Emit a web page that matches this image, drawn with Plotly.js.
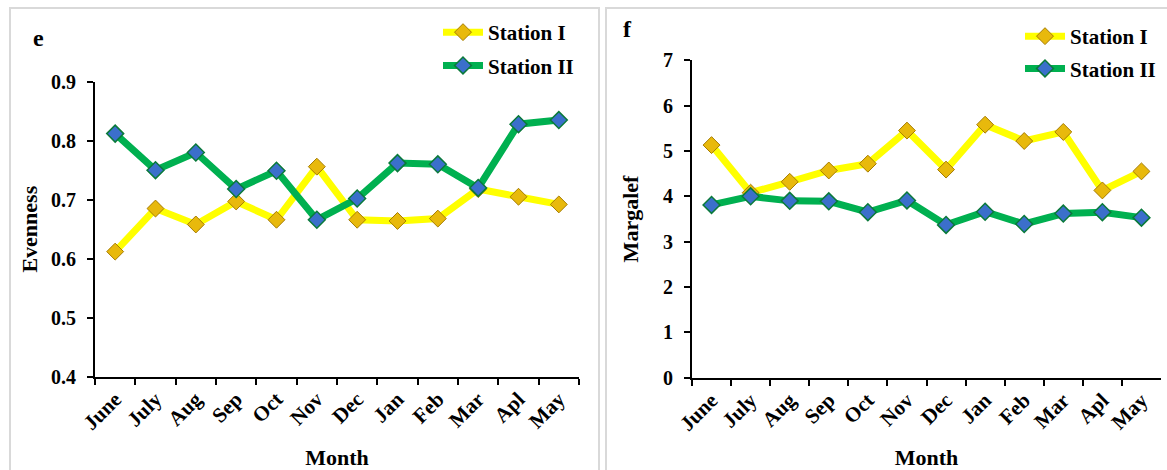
<!DOCTYPE html>
<html>
<head>
<meta charset="utf-8">
<script src="https://cdn.plot.ly/plotly-3.0.1.min.js"></script>
<style>html,body{margin:0;padding:0;background:#fff;} #chart{width:1167px;height:470px;}</style>
</head>
<body>
<div id="chart"></div>
<script>
const months = ["June","July","Aug","Sep","Oct","Nov","Dec","Jan","Feb","Mar","Apl","May"];
const evenStation1 = [0.612,0.685,0.658,0.697,0.666,0.756,0.666,0.664,0.668,0.718,0.705,0.692];
const evenStation2 = [0.812,0.750,0.780,0.718,0.749,0.666,0.702,0.762,0.760,0.720,0.828,0.835];
const margStation1 = [5.13,4.08,4.32,4.57,4.72,5.45,4.59,5.58,5.22,5.42,4.13,4.55];
const margStation2 = [3.81,4.00,3.90,3.89,3.65,3.91,3.37,3.66,3.39,3.62,3.65,3.53];
const seriesNames = ["Station I","Station II"];

const W = 1167, H = 470;
const px = v => v / W;
const py = v => 1 - v / H;

const FONT = "Liberation Serif, Times New Roman, serif";
const yellowLine = "#FFFF00", greenLine = "#00B050";
const yellowMarker = {symbol:"diamond", size:13, color:"#E8B90C", line:{color:"#A67C00", width:1}};
const greenMarker = {symbol:"diamond", size:13, color:"#3B6FCB", line:{color:"#0A7A3A", width:1.5}};

function tr(x, y, name, lineColor, marker, xa, ya, leg, grp) {
  return {type:"scatter", mode:"lines+markers", x:x, y:y, name:name,
    line:{color:lineColor, width:7}, marker:marker, xaxis:xa, yaxis:ya,
    legend:leg, legendgroup:grp, showlegend:true};
}

const data = [
  tr(months, evenStation1, seriesNames[0], yellowLine, yellowMarker, "x", "y", "legend", "a1"),
  tr(months, evenStation2, seriesNames[1], greenLine, greenMarker, "x", "y", "legend", "a2"),
  tr(months, margStation1, seriesNames[0], yellowLine, yellowMarker, "x2", "y2", "legend2", "b1"),
  tr(months, margStation2, seriesNames[1], greenLine, greenMarker, "x2", "y2", "legend2", "b2")
];

const yTickFont = {family:FONT, size:20, color:"#000", weight:"bold"};
const xTickFont = {family:FONT, size:21, color:"#000", weight:"bold"};
const titleFont = {family:FONT, size:22, color:"#000", weight:"bold"};
const legendFont = {family:FONT, size:21, color:"#000", weight:"bold"};

function xaxis(domain, anchor) {
  return {domain:domain, anchor:anchor, type:"category", range:[-0.5,11.5],
    tickson:"boundaries", ticks:"outside", ticklen:6, tickwidth:2, tickcolor:"#000",
    showline:true, linecolor:"#000", linewidth:2, showgrid:false, zeroline:false,
    tickangle:-45, tickfont:xTickFont, fixedrange:true,
    title:{text:"Month", font:titleFont, standoff:17}};
}
function yaxis(domain, anchor, range, dtick, fmt, title, standoff) {
  return {domain:domain, anchor:anchor, range:range, dtick:dtick, tick0:range[0], tickformat:fmt,
    ticks:"outside", ticklen:6, tickwidth:2, tickcolor:"#000", ticklabelstandoff:7,
    showline:true, linecolor:"#000", linewidth:2, showgrid:false, zeroline:false,
    tickfont:yTickFont, fixedrange:true,
    title:{text:title, font:titleFont, standoff:standoff}};
}

const layout = {
  width:W, height:H, margin:{l:0,r:0,t:0,b:0},
  paper_bgcolor:"#fff", plot_bgcolor:"rgba(0,0,0,0)",
  showlegend:true,
  xaxis: xaxis([px(95), px(579)], "y"),
  yaxis: yaxis([py(376.7), py(81.7)], "x", [0.4,0.9], 0.1, ".1f", "Evenness", 7),
  xaxis2: xaxis([px(692), px(1161)], "y2"),
  yaxis2: yaxis([py(377.7), py(60.3)], "x2", [0,7], 1, "d", "Margalef", 18),
  legend: {x:px(438), y:py(12), xanchor:"left", yanchor:"top", bgcolor:"rgba(0,0,0,0)",
    font:legendFont, tracegroupgap:3, itemwidth:40},
  legend2: {x:px(1020), y:py(16), xanchor:"left", yanchor:"top", bgcolor:"rgba(0,0,0,0)",
    font:legendFont, tracegroupgap:2, itemwidth:40},
  shapes: [
    {type:"rect", xref:"paper", yref:"paper", x0:px(10), x1:px(599), y0:py(480), y1:py(8),
     line:{color:"#D9D9D9", width:2}, fillcolor:"rgba(0,0,0,0)", layer:"below"},
    {type:"rect", xref:"paper", yref:"paper", x0:px(606), x1:px(1180), y0:py(480), y1:py(8),
     line:{color:"#D9D9D9", width:2}, fillcolor:"rgba(0,0,0,0)", layer:"below"}
  ],
  annotations: [
    {text:"e", xref:"paper", yref:"paper", x:px(38), y:py(38), xanchor:"center", yanchor:"middle",
     showarrow:false, font:{family:FONT, size:24, color:"#000", weight:"bold"}},
    {text:"f", xref:"paper", yref:"paper", x:px(627), y:py(29), xanchor:"center", yanchor:"middle",
     showarrow:false, font:{family:FONT, size:24, color:"#000", weight:"bold"}}
  ]
};

Plotly.newPlot("chart", data, layout, {displayModeBar:false, staticPlot:true});
</script>
</body>
</html>
